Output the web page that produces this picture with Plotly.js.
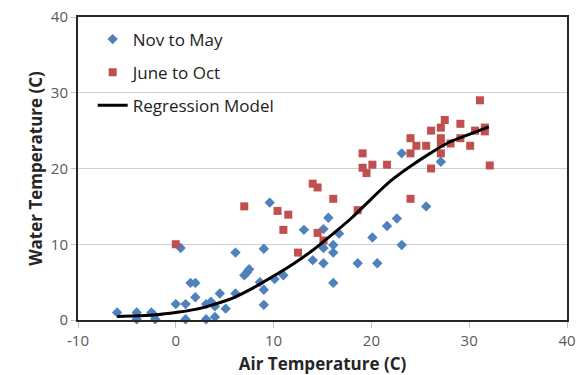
<!DOCTYPE html>
<html>
<head>
<meta charset="utf-8">
<script src="https://cdn.plot.ly/plotly-3.0.1.min.js"></script>
<style>html,body{margin:0;padding:0;background:#fff;}#chart{width:582px;height:375px;}</style>
</head>
<body>
<div id="chart"></div>
<script>
// Nov to May observations
const novMayAir = [-6, -4, -4, -2.5, -2.2, -2.1, 0, 0.5, 1, 1, 1.5, 2, 2, 3.1, 3.1, 3.6, 4.0, 4.0, 4.5, 5.1,
  6.1, 6.1, 7.0, 7.3, 7.5, 8.6, 9.0, 9.0, 9.0, 9.6, 10.1, 11.0, 13.1, 14.0, 15.1, 15.1, 15.1, 15.6,
  16.1, 16.1, 16.1, 16.7, 18.6, 20.1, 20.6, 21.6, 22.6, 23.1, 23.1, 25.6, 27.1];
const novMayWater = [1.0, 1.0, 0.1, 1.0, 0.6, 0.1, 2.1, 9.5, 2.1, 0.1, 4.9, 4.9, 3.0, 2.1, 0.1, 2.4, 1.8, 0.4, 3.5, 1.5,
  8.9, 3.5, 5.9, 6.3, 6.7, 5.0, 9.4, 4.0, 2.0, 15.5, 5.4, 5.9, 11.9, 7.9, 7.5, 9.5, 12.0, 13.5,
  9.9, 8.9, 4.9, 11.4, 7.5, 10.9, 7.5, 12.4, 13.4, 9.9, 22.0, 15.0, 20.9];
// June to Oct observations
const juneOctAir = [0, 7.0, 10.4, 11.5, 11.0, 12.5, 14.0, 14.5, 14.5, 15.1, 16.1, 18.6, 19.1, 19.1, 19.5, 20.1,
  21.6, 24.0, 24.0, 24.0, 24.6, 25.6, 26.1, 26.1, 27.1, 27.5, 27.1, 27.1, 27.1, 28.1, 29.1, 29.1,
  30.1, 30.6, 31.1, 31.6, 31.6, 32.1];
const juneOctWater = [10.0, 15.0, 14.4, 13.9, 11.9, 8.9, 18.0, 17.5, 11.5, 10.5, 16.0, 14.5, 22.0, 20.1, 19.4, 20.5,
  20.5, 16.0, 24.0, 22.0, 23.0, 23.0, 25.0, 20.0, 25.4, 26.4, 24.0, 23.3, 22.0, 23.3, 25.9, 24.0,
  23.0, 25.0, 29.0, 25.4, 24.9, 20.4];
// Regression model curve
const modelAir = [-6, -4, -2, 0, 2, 4, 6, 8, 10, 12, 14, 16, 18, 20, 22, 24, 26, 28, 30, 32];
const modelWater = [0.45, 0.55, 0.7, 1.0, 1.4, 2.1, 3.0, 4.3, 5.8, 7.4, 9.2, 11.3, 13.5, 16.0, 18.4, 20.3, 22.0, 23.5, 24.5, 25.5];

const seriesNames = ['Nov to May', 'June to Oct', 'Regression Model'];
const xTickVals = [-10, 0, 10, 20, 30, 40];
const xTickText = ['-10', '0', '10', '20', '30', '40'];
const yTickVals = [0, 10, 20, 30, 40];
const yTickText = ['0', '10', '20', '30', '40'];
const xTitle = 'Air Temperature (C)';
const yTitle = 'Water Temperature (C)';

const font = 'Open Sans, Liberation Sans, sans-serif';

const traces = [
  {x: novMayAir, y: novMayWater, type: 'scatter', mode: 'markers', name: seriesNames[0], legendgroup: 'a',
   marker: {symbol: 'diamond', size: 8, color: '#4F81BD'}, cliponaxis: false},
  {x: juneOctAir, y: juneOctWater, type: 'scatter', mode: 'markers', name: seriesNames[1], legendgroup: 'b',
   marker: {symbol: 'square', size: 8, color: '#C0504D'}, cliponaxis: false},
  {x: modelAir, y: modelWater, type: 'scatter', mode: 'lines', name: seriesNames[2], legendgroup: 'c',
   line: {color: '#000000', width: 3, shape: 'spline'}}
];

const layout = {
  width: 582, height: 375,
  margin: {l: 78, r: 15, t: 17, b: 55},
  paper_bgcolor: '#ffffff', plot_bgcolor: '#ffffff',
  font: {family: font, size: 15, color: '#595959'},
  showlegend: true,
  legend: {x: 0.03, y: 0.985, xanchor: 'left', yanchor: 'top', bgcolor: 'rgba(0,0,0,0)',
           traceorder: 'grouped', tracegroupgap: 8,
           font: {family: font, size: 17, color: '#222222'}},
  xaxis: {range: [-10, 40], tickmode: 'array', tickvals: xTickVals, ticktext: xTickText,
          showgrid: false, zeroline: false,
          showline: true, linecolor: '#262626', linewidth: 2, mirror: true,
          ticks: 'outside', ticklen: 6, tickcolor: '#BFBFBF',
          tickfont: {family: font, size: 15, color: '#595959'},
          title: {text: xTitle, font: {family: font, size: 17, color: '#262626', weight: 'bold'}, standoff: 9}},
  yaxis: {range: [0, 40], tickmode: 'array', tickvals: yTickVals, ticktext: yTickText,
          showgrid: true, gridcolor: '#D0D0D0', gridwidth: 1, zeroline: false,
          showline: true, linecolor: '#262626', linewidth: 2, mirror: true,
          ticks: 'outside', ticklen: 5, tickcolor: '#BFBFBF',
          tickfont: {family: font, size: 15, color: '#595959'},
          title: {text: yTitle, font: {family: font, size: 17, color: '#262626', weight: 'bold'}, standoff: 4}}
};

Plotly.newPlot('chart', traces, layout, {displayModeBar: false, staticPlot: true});
</script>
</body>
</html>
